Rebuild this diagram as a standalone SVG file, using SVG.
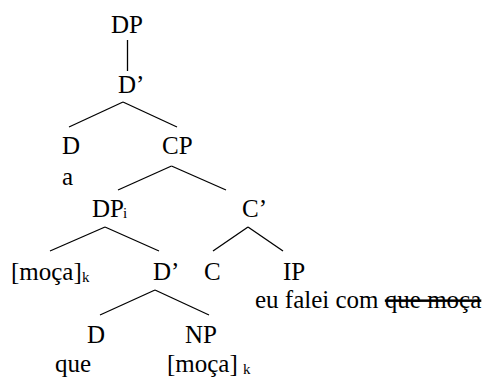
<svg xmlns="http://www.w3.org/2000/svg" width="484" height="377" viewBox="0 0 484 377">
<style>
.sub{font-size:15px}
.edge{stroke:#000;stroke-width:1.3;fill:none}
</style>
<rect width="484" height="377" fill="#fff"/>
<g id="connectors">
<line class="edge" x1="127.5" y1="40" x2="127.5" y2="71"/>
<line class="edge" x1="123" y1="102" x2="69" y2="127"/>
<line class="edge" x1="123" y1="102" x2="177" y2="127"/>
<line class="edge" x1="171.5" y1="166" x2="118" y2="190"/>
<line class="edge" x1="171.5" y1="166" x2="226" y2="190"/>
<line class="edge" x1="105" y1="227" x2="50" y2="251"/>
<line class="edge" x1="105" y1="227" x2="159" y2="251"/>
<line class="edge" x1="248" y1="227" x2="213" y2="251"/>
<line class="edge" x1="248" y1="227" x2="283" y2="251"/>
<line class="edge" x1="155" y1="290" x2="100" y2="315"/>
<line class="edge" x1="155" y1="290" x2="209" y2="315"/>
</g>
<g font-family="Liberation Serif, Times New Roman, DejaVu Serif, serif" font-size="25" fill="#000">
<g id="DP"><text x="111" y="33">DP</text></g>
<g id="Dbar1"><text x="118" y="93">D’</text></g>
<g id="D1"><text x="62" y="154">D</text><text x="62" y="185">a</text></g>
<g id="CP"><text x="162" y="154">CP</text></g>
<g id="DPi"><text x="92" y="217">DP</text><text class="sub" x="123" y="218">i</text></g>
<g id="Cbar"><text x="242" y="217">C’</text></g>
<g id="moca1"><text x="11" y="280">[moça]</text><text class="sub" x="82" y="282">k</text></g>
<g id="Dbar2"><text x="153" y="280">D’</text></g>
<g id="C"><text x="204" y="280">C</text></g>
<g id="IP"><text x="283" y="280">IP</text><text x="255" y="308">eu falei com <tspan text-decoration="line-through">que moça</tspan></text></g>
<g id="D2"><text x="87" y="343">D</text><text x="55" y="372">que</text></g>
<g id="NP"><text x="185" y="343">NP</text><text x="167" y="372">[moça]</text><text class="sub" x="243" y="374">k</text></g>
</g>
</svg>
